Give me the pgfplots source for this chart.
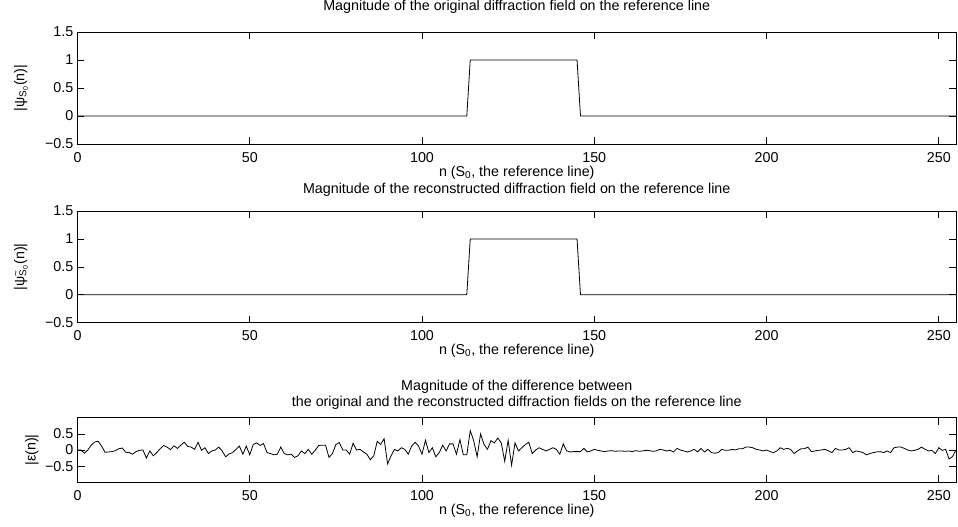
\documentclass[border=0pt]{standalone}
\usepackage{fontspec}
\setmainfont{Liberation Sans}
\usepackage{pgfplots}
\usepackage{pgfplotstable}
\pgfplotsset{compat=1.18}
\newcommand{\f}{\fontsize{14.3}{15.5}\selectfont}

\pgfplotstableread{
n v
0 0
113 0
114 1
145 1
146 0
255 0
}\pulse

\pgfplotstableread{
n v
0 0
1 0.0
2 -0.10
3 0.0
4 0.15
5 0.25
6 0.27
7 0.12
8 -0.07
9 -0.06
10 -0.05
11 -0.02
12 0.04
13 0.06
14 -0.07
15 -0.08
16 -0.13
17 -0.05
18 -0.01
19 0.00
20 -0.25
21 -0.03
22 -0.18
23 -0.08
24 0.04
25 0.14
26 0.09
27 0.01
28 0.13
29 0.05
30 0.15
31 0.24
32 0.11
33 0.09
34 0.02
35 0.24
36 -0.01
37 0.07
38 -0.11
39 -0.03
40 0.00
41 0.09
42 -0.03
43 -0.21
44 -0.12
45 -0.08
46 0.02
47 0.12
48 -0.13
49 0.12
50 -0.15
51 0.17
52 0.22
53 0.14
54 0.20
55 -0.08
56 -0.11
57 -0.15
58 -0.13
59 0.09
60 -0.11
61 -0.15
62 -0.13
63 -0.23
64 -0.18
65 -0.03
66 -0.11
67 0.02
68 -0.13
69 -0.01
70 0.14
71 0.15
72 0.15
73 -0.23
74 -0.11
75 0.17
76 0.23
77 0.00
78 0.00
79 -0.13
80 0.21
81 0.00
82 0.02
83 -0.06
84 -0.13
85 -0.30
86 -0.18
87 0.27
88 0.17
89 0.35
90 -0.43
91 -0.18
92 0.02
93 -0.03
94 0.07
95 0.02
96 -0.13
97 0.12
98 0.24
99 0.12
100 -0.13
101 0.30
102 -0.08
103 0.07
104 -0.21
105 -0.08
106 0.15
107 -0.03
108 0.19
109 0.19
110 -0.13
111 0.32
112 -0.15
113 -0.15
114 0.60
115 0.29
116 -0.21
117 0.50
118 0.17
119 0.02
120 0.29
121 0.22
122 0.37
123 0.22
124 -0.35
125 0.30
126 -0.47
127 0.22
128 -0.03
129 0.07
130 0.17
131 0.24
132 -0.11
133 0.00
134 0.07
135 0.02
136 -0.03
137 0.02
138 0.07
139 0.02
140 -0.13
141 0.19
142 -0.03
143 -0.06
144 -0.05
145 -0.05
146 -0.05
147 0.05
148 -0.06
149 -0.03
150 0.02
151 -0.01
152 -0.03
153 -0.05
154 -0.03
155 -0.02
156 -0.04
157 -0.03
158 -0.03
159 -0.04
160 -0.03
161 -0.05
162 -0.02
163 -0.04
164 -0.03
165 -0.01
166 -0.02
167 -0.04
168 -0.03
169 0.02
170 0.00
171 -0.03
172 -0.01
173 -0.06
174 0.05
175 0.00
176 -0.03
177 -0.06
178 -0.03
179 0.02
180 -0.06
181 0.05
182 -0.06
183 0.02
184 -0.08
185 -0.10
186 -0.08
187 0.02
188 -0.01
189 -0.01
190 0.02
191 0.00
192 0.04
193 0.04
194 0.09
195 0.09
196 0.07
197 0.02
198 0.00
199 -0.03
200 0.00
201 -0.05
202 -0.08
203 -0.03
204 0.07
205 0.02
206 0.05
207 0.02
208 -0.11
209 -0.03
210 0.04
211 0.04
212 0.09
213 -0.05
214 -0.03
215 -0.01
216 0.00
217 0.02
218 -0.03
219 -0.08
220 0.05
221 0.00
222 0.00
223 0.02
224 0.07
225 -0.08
226 -0.03
227 -0.05
228 -0.08
229 -0.15
230 -0.11
231 -0.08
232 -0.06
233 -0.05
234 -0.08
235 -0.03
236 -0.08
237 0.07
238 0.09
239 0.09
240 0.05
241 0.00
242 -0.03
243 -0.01
244 0.02
245 0.09
246 0.02
247 -0.03
248 -0.01
249 -0.11
250 0.07
251 -0.01
252 0.02
253 -0.28
254 -0.20
255 0.00
}\noise

\pgfplotsset{
  every axis title shift=0pt,
  mystyle/.style={
    scale only axis, width=878.5pt, anchor=south west,
    xmin=0, xmax=255,
    xtick={0,50,100,150,200,250},
    xticklabels={0,50,100,150,200,250},
    tick align=inside, major tick length=7pt,
    axis line style={line width=0.6pt},
    every tick/.style={black, line width=0.6pt},
    tick label style={font=\f},
    xticklabel style={anchor=north, inner sep=0pt, yshift=-8pt},
    yticklabel style={anchor=east, inner sep=0pt, xshift=-4pt},
    label style={font=\f},
    xlabel={n (S\textsubscript{0}, the reference line)},
    xlabel style={at={(axis description cs:0.5,0)}, anchor=north, inner sep=0pt, yshift=-21.5pt},
    title style={font=\f, anchor=center, align=center, yshift=0pt},
  }
}

\begin{document}
\begin{tikzpicture}
\useasboundingbox (0,0) rectangle (958pt,527pt);

% Plot 1
\begin{axis}[mystyle, at={(77.5pt,383pt)}, height=112pt,
  ymin=-0.5, ymax=1.5,
  ytick={-0.5,0,0.5,1,1.5}, yticklabels={−0.5,0,0.5,1,1.5},
  ylabel={|ψ\textsubscript{S\textsubscript{0}}(n)|},
  ylabel style={at={(axis description cs:-0.0643,0.5)}, anchor=center},
  title={Magnitude of the original diffraction field on the reference line},
  title style={at={(axis description cs:0.5,1.223)}},
]
\addplot[black, line width=0.8pt] table[x=n, y=v] {\pulse};
\end{axis}

% Plot 2
\begin{axis}[mystyle, at={(77.5pt,204.3pt)}, height=111.7pt,
  ymin=-0.5, ymax=1.5,
  ytick={-0.5,0,0.5,1,1.5}, yticklabels={−0.5,0,0.5,1,1.5},
  ylabel={|ψ\rlap{\textsuperscript{\textasciitilde}}\textsubscript{S\textsubscript{0}}(n)|},
  ylabel style={at={(axis description cs:-0.0643,0.5)}, anchor=center},
  title={Magnitude of the reconstructed diffraction field on the reference line},
  title style={at={(axis description cs:0.5,1.188)}},
]
\addplot[black, line width=0.8pt] table[x=n, y=v] {\pulse};
\end{axis}

% Plot 3
\begin{axis}[mystyle, at={(77.5pt,44.7pt)}, height=64.6pt,
  ymin=-1, ymax=1,
  ytick={-0.5,0,0.5}, yticklabels={−0.5,0,0.5},
  ylabel={|ε(n)|},
  ylabel style={at={(axis description cs:-0.0518,0.5)}, anchor=center},
  title={Magnitude of the difference between\\the original and the reconstructed diffraction fields on the reference line},
  title style={at={(axis description cs:0.5,1.351)}},
]
\addplot[black, line width=0.8pt] table[x=n, y=v] {\noise};
\node[anchor=base west, inner sep=0pt, font=\f] at (rel axis cs:0,1) [yshift=4.7pt] {x 10\textsuperscript{−14}};
\end{axis}
\end{tikzpicture}
\end{document}
